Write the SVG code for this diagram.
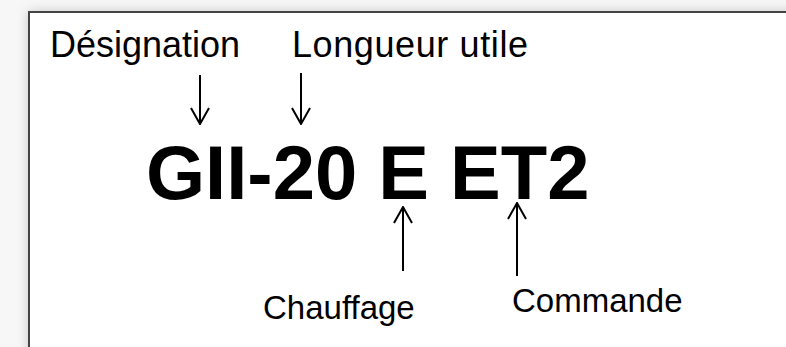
<svg xmlns="http://www.w3.org/2000/svg" width="786" height="347" viewBox="0 0 786 347">
  <defs>
    <filter id="shadow" x="-10%" y="-10%" width="120%" height="120%">
      <feGaussianBlur stdDeviation="6"/>
    </filter>
    <marker id="head" viewBox="-1 -11 18 22" refX="16" refY="0" markerWidth="18" markerHeight="22" markerUnits="userSpaceOnUse" orient="auto">
      <path d="M0,-9 L16,0 L0,9" fill="none" stroke="#000" stroke-width="2"/>
    </marker>
  </defs>
  <style>
    .lbl { font-family: "Liberation Sans", Arial, sans-serif; font-size: 36px; fill: #000; }
    .lbl2 { font-family: "Liberation Sans", Arial, sans-serif; font-size: 33px; fill: #000; }
    .code { font-family: "Liberation Sans", Arial, sans-serif; font-size: 76px; font-weight: bold; fill: #000; }
    .arr { stroke: #000; stroke-width: 2; fill: none; marker-end: url(#head); }
  </style>
  <rect x="0" y="0" width="786" height="347" fill="#f7f7f7"/>
  <rect x="29" y="12" width="800" height="400" fill="#bdbdbd" filter="url(#shadow)"/>
  <rect x="29" y="12" width="800" height="400" fill="#fff" stroke="#444" stroke-width="2"/>

  <g id="designation"><text class="lbl" x="50" y="57">Désignation</text></g>
  <g id="longueur"><text class="lbl" x="292" y="57" textLength="236">Longueur utile</text></g>
  <g id="code"><text class="code" x="146" y="199">GII-20 E ET2</text></g>
  <g id="chauffage"><text class="lbl2" x="263" y="319">Chauffage</text></g>
  <g id="commande"><text class="lbl2" x="512" y="312">Commande</text></g>

  <g id="connectors">
    <line class="arr" x1="200" y1="75" x2="200" y2="124"/>
    <line class="arr" x1="301" y1="73" x2="301" y2="124"/>
    <line class="arr" x1="403" y1="271" x2="403" y2="207"/>
    <line class="arr" x1="517" y1="276" x2="517" y2="203"/>
  </g>
</svg>
